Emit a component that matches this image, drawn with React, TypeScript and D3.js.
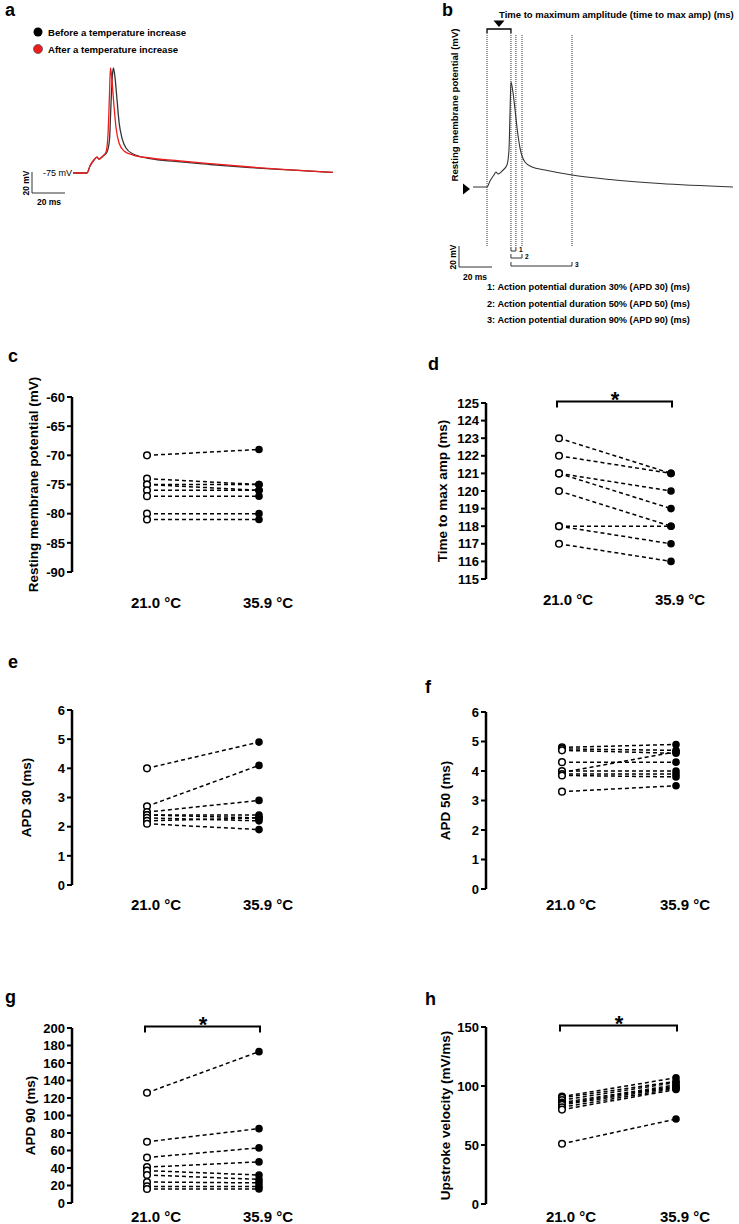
import React from "react";
import * as d3 from "d3";

const FONT = "'Liberation Sans', Arial, Helvetica, sans-serif";

// ---- example traces (ms from sweep start, mV) ----
const beforeTrace: [number, number][] = [
  [0, -75], [8.5, -75], [10.3, -68.3], [12.7, -62.6], [14.5, -59.8], [15.8, -61.7],
  [18.2, -58.8], [20.6, -55], [22.1, -43.6], [23.0, -10.2], [23.9, 18.3], [24.5, 25],
  [25.5, 15.5], [26.7, -5.5], [27.9, -26.4], [29.7, -41.7], [32.1, -51.2], [36.4, -56.9],
  [46.7, -61.2], [61.8, -64], [83, -66.9], [107.3, -69.8], [131.5, -72.1], [157.6, -74.5],
];
const afterTrace: [number, number][] = [
  [0, -75], [8.5, -75], [10.3, -68.3], [12.7, -62.6], [14.5, -59.8], [15.8, -61.7],
  [18.2, -58.8], [20, -55], [21.2, -38.8], [22.1, -1], [22.7, 25], [23.6, 13.6],
  [24.8, -10.2], [26.1, -32.1], [27.9, -46.4], [30.9, -54], [36.4, -57.9], [46.7, -60.7],
  [61.8, -63.1], [83, -66], [107.3, -69.3], [131.5, -72.1], [157.6, -74.5],
];
const schemeTrace: [number, number][] = [
  [0, -75], [8.5, -75], [10.3, -69.3], [12.7, -63.6], [13.9, -60.7], [15.2, -62.6],
  [17.6, -59.8], [20.6, -54], [21.8, -39.8], [22.4, -6.4], [23, 25], [24.2, 15.5],
  [25.5, -1.7], [26.7, -18.8], [28.5, -37.9], [31.5, -51.2], [35.8, -56], [43.6, -58.8],
  [60, -63.6], [83, -67.9], [113.3, -71.7], [157.6, -75],
];
// onset, peak, APD30, APD50, APD90 (ms)
const schemeMarks = [8.5, 23, 26, 29.7, 60];
const apdLegend = [
  "1: Action potential duration 30% (APD 30) (ms)",
  "2: Action potential duration 50% (APD 50) (ms)",
  "3: Action potential duration 90% (APD 90) (ms)",
];

// ---- paired cells: 21.0 °C vs 35.9 °C ----
const conditions = ["21.0 °C", "35.9 °C"];

const rmpCold = [-70, -74, -75, -75, -76, -77, -80, -81];
const rmpWarm = [-69, -75, -75, -76, -76, -77, -80, -81];
const rmpTicks = [-90, -85, -80, -75, -70, -65, -60];

const ttpCold = [123, 122, 121, 121, 120, 118, 118, 117];
const ttpWarm = [121, 121, 120, 119, 118, 118, 117, 116];
const ttpTicks = [115, 116, 117, 118, 119, 120, 121, 122, 123, 124, 125];

const apd30Cold = [4.0, 2.7, 2.5, 2.4, 2.4, 2.3, 2.2, 2.1];
const apd30Warm = [4.9, 4.1, 2.9, 2.4, 2.3, 2.2, 2.3, 1.9];

const apd50Cold = [4.8, 4.75, 4.7, 4.3, 3.95, 4.0, 3.9, 3.85, 3.3];
const apd50Warm = [4.9, 4.7, 4.6, 4.3, 4.65, 4.0, 3.9, 3.8, 3.5];
const apdTicks = [0, 1, 2, 3, 4, 5, 6];

const apd90Cold = [126, 70, 52, 41, 37, 32, 24, 19, 16];
const apd90Warm = [173, 85, 63, 47, 32, 27, 23, 19, 16];
const apd90Ticks = [0, 20, 40, 60, 80, 100, 120, 140, 160, 180, 200];

const upCold = [51, 91, 90, 88, 86, 85, 84, 82, 80];
const upWarm = [72, 107, 104, 103, 101, 100, 99, 98, 97];
const upTicks = [0, 50, 100, 150];

type PanelProps = {
  letter: string;
  letterPos: [number, number];
  axisX: number;
  top: number;
  bottom: number;
  domain: [number, number];
  ticks: number[];
  title: string;
  titleX: number;
  xRange: [number, number];
  catY: number;
  cold: number[];
  warm: number[];
  star?: boolean;
};

function PairedPanel(p: PanelProps) {
  const y = d3.scaleLinear().domain(p.domain).range([p.bottom, p.top]);
  const x = d3.scalePoint<string>().domain(conditions).range(p.xRange);
  const x0 = x(conditions[0])!;
  const x1 = x(conditions[1])!;
  const bracketY = p.top - 1.5;
  return (
    <g fontFamily={FONT} fontWeight="bold">
      <text x={p.letterPos[0]} y={p.letterPos[1]} fontSize={18}>{p.letter}</text>
      <line x1={p.axisX} x2={p.axisX} y1={p.top} y2={p.bottom} stroke="#000" strokeWidth={2.5} />
      {p.ticks.map((t) => (
        <g key={t}>
          <line x1={p.axisX - 5} x2={p.axisX} y1={y(t)} y2={y(t)} stroke="#000" strokeWidth={2} />
          <text x={p.axisX - 7} y={y(t)} dy="0.36em" fontSize={13} textAnchor="end">{t}</text>
        </g>
      ))}
      <text
        transform={`translate(${p.titleX},${(p.top + p.bottom) / 2}) rotate(-90)`}
        fontSize={13.5}
        textAnchor="middle"
      >
        {p.title}
      </text>
      {conditions.map((c) => (
        <text key={c} x={x(c)! + 9} y={p.catY} fontSize={15} textAnchor="middle">{c}</text>
      ))}
      {p.cold.map((v, i) => (
        <line
          key={i}
          x1={x0}
          y1={y(v)}
          x2={x1}
          y2={y(p.warm[i])}
          stroke="#000"
          strokeWidth={1.5}
          strokeDasharray="4 3"
        />
      ))}
      {p.warm.map((v, i) => (
        <circle key={"w" + i} cx={x1} cy={y(v)} r={3.8} fill="#000" />
      ))}
      {p.cold.map((v, i) => (
        <circle key={"c" + i} cx={x0} cy={y(v)} r={3.3} fill="#fff" stroke="#000" strokeWidth={1.5} />
      ))}
      {p.star && (
        <g>
          <path
            d={`M${x0 - 2},${bracketY + 6}V${bracketY}H${x1 + 1}V${bracketY + 6}`}
            fill="none"
            stroke="#000"
            strokeWidth={2}
          />
          <text x={(x0 + x1) / 2} y={bracketY + 5} fontSize={22} textAnchor="middle">*</text>
        </g>
      )}
    </g>
  );
}

function TracePanelA() {
  const x = d3.scaleLinear().domain([0, 20]).range([73, 106]);
  const y = d3.scaleLinear().domain([-75, -55]).range([173, 152]);
  const line = d3
    .line<[number, number]>()
    .x((d) => x(d[0]))
    .y((d) => y(d[1]))
    .curve(d3.curveMonotoneX);
  const barX = 32;
  const barY = 193;
  return (
    <g fontFamily={FONT}>
      <text x={5} y={16} fontSize={18} fontWeight="bold">a</text>
      <circle cx={38} cy={32} r={4.5} fill="#000" />
      <text x={48} y={35.5} fontSize={9.6} fontWeight="bold">Before a temperature increase</text>
      <circle cx={38} cy={49} r={4.5} fill="#ee1c1c" stroke="#555" strokeWidth={0.8} />
      <text x={48} y={52.5} fontSize={9.6} fontWeight="bold">After a temperature increase</text>
      <path d={line(beforeTrace)!} fill="none" stroke="#333" strokeWidth={1.3} />
      <path d={line(afterTrace)!} fill="none" stroke="#ee1c1c" strokeWidth={1.3} />
      <text x={72} y={y(-75)} dy="0.35em" fontSize={9} textAnchor="end">-75 mV</text>
      <path
        d={`M${barX},${barY - (y(-75) - y(-55))}V${barY}H${barX + (x(20) - x(0))}`}
        fill="none"
        stroke="#333"
        strokeWidth={1}
      />
      <text transform={`translate(${barX - 3},${barY - 10}) rotate(-90)`} fontSize={8.5} fontWeight="bold" textAnchor="middle">20 mV</text>
      <text x={barX + 5} y={205} fontSize={8.5} fontWeight="bold">20 ms</text>
    </g>
  );
}

function TracePanelB() {
  const x = d3.scaleLinear().domain([0, 20]).range([473, 506]);
  const y = d3.scaleLinear().domain([-75, -55]).range([187, 166]);
  const line = d3
    .line<[number, number]>()
    .x((d) => x(d[0]))
    .y((d) => y(d[1]))
    .curve(d3.curveMonotoneX);
  const [onset, peak, a30, a50, a90] = schemeMarks.map((t) => x(t));
  const barX = 459;
  const barY = 267;
  const brackets = [
    { end: a30, yb: 251, label: "1" },
    { end: a50, yb: 258, label: "2" },
    { end: a90, yb: 266, label: "3" },
  ];
  return (
    <g fontFamily={FONT}>
      <text x={442} y={16} fontSize={18} fontWeight="bold">b</text>
      <text x={499} y={18} fontSize={9.5} fontWeight="bold">Time to maximum amplitude (time to max amp) (ms)</text>
      <path d="M493.5,20.5L504.5,20.5L499,27Z" fill="#000" />
      <path d={`M${onset},33V29H${peak}V33`} fill="none" stroke="#000" strokeWidth={1.3} />
      {[onset, peak].map((px, i) => (
        <line key={"a" + i} x1={px} x2={px} y1={33} y2={247} stroke="#000" strokeWidth={0.8} strokeDasharray="1 1" />
      ))}
      {[a30, a50, a90].map((px, i) => (
        <line key={"b" + i} x1={px} x2={px} y1={35} y2={247} stroke="#000" strokeWidth={0.8} strokeDasharray="1 1" />
      ))}
      <path d={line(schemeTrace)!} fill="none" stroke="#333" strokeWidth={1.1} />
      <path d="M463,183.5L470,189L463,194.5Z" fill="#000" />
      <text
        transform={`translate(458,105) rotate(-90)`}
        fontSize={9.6}
        fontWeight="bold"
        textAnchor="middle"
      >
        Resting membrane potential (mV)
      </text>
      {brackets.map((b) => (
        <g key={b.label}>
          <path d={`M${peak},${b.yb - 4}V${b.yb}H${b.end}V${b.yb - 4}`} fill="none" stroke="#333" strokeWidth={1} />
          <text x={b.end + 3} y={b.yb + 1} fontSize={6.5} fontWeight="bold">{b.label}</text>
        </g>
      ))}
      <path
        d={`M${barX},${barY - (y(-75) - y(-55))}V${barY}H${barX + (x(20) - x(0))}`}
        fill="none"
        stroke="#333"
        strokeWidth={1}
      />
      <text transform={`translate(${barX - 3},${barY - 10}) rotate(-90)`} fontSize={8.5} fontWeight="bold" textAnchor="middle">20 mV</text>
      <text x={barX + 4} y={280} fontSize={8.5} fontWeight="bold">20 ms</text>
      {apdLegend.map((t, i) => (
        <text key={t} x={487} y={290 + i * 16.5} fontSize={9.2} fontWeight="bold">{t}</text>
      ))}
    </g>
  );
}

export default function App() {
  return (
    <svg
      width={739}
      height={1224}
      viewBox="0 0 739 1224"
      style={{ position: "absolute", left: 0, top: 0, background: "#fff" }}
    >
      <rect width={739} height={1224} fill="#fff" />
      <TracePanelA />
      <TracePanelB />
      <PairedPanel
        letter="c" letterPos={[8, 362]} axisX={72} top={397} bottom={572}
        domain={[-90, -60]} ticks={rmpTicks} title="Resting membrane potential (mV)" titleX={38}
        xRange={[147, 259]} catY={608} cold={rmpCold} warm={rmpWarm}
      />
      <PairedPanel
        letter="d" letterPos={[428, 370]} axisX={486} top={403} bottom={579}
        domain={[115, 125]} ticks={ttpTicks} title="Time to max amp (ms)" titleX={447}
        xRange={[559, 671]} catY={605} cold={ttpCold} warm={ttpWarm} star
      />
      <PairedPanel
        letter="e" letterPos={[8, 668]} axisX={72} top={710} bottom={885}
        domain={[0, 6]} ticks={apdTicks} title="APD 30 (ms)" titleX={31}
        xRange={[147, 259]} catY={910} cold={apd30Cold} warm={apd30Warm}
      />
      <PairedPanel
        letter="f" letterPos={[425, 693]} axisX={486} top={712} bottom={889}
        domain={[0, 6]} ticks={apdTicks} title="APD 50 (ms)" titleX={450}
        xRange={[562, 676]} catY={910} cold={apd50Cold} warm={apd50Warm}
      />
      <PairedPanel
        letter="g" letterPos={[5, 1003]} axisX={72} top={1028} bottom={1203}
        domain={[0, 200]} ticks={apd90Ticks} title="APD 90 (ms)" titleX={35}
        xRange={[147, 259]} catY={1222} cold={apd90Cold} warm={apd90Warm} star
      />
      <PairedPanel
        letter="h" letterPos={[425, 1005]} axisX={486} top={1027} bottom={1204}
        domain={[0, 150]} ticks={upTicks} title="Upstroke velocity (mV/ms)" titleX={450}
        xRange={[562, 676]} catY={1222} cold={upCold} warm={upWarm} star
      />
    </svg>
  );
}
